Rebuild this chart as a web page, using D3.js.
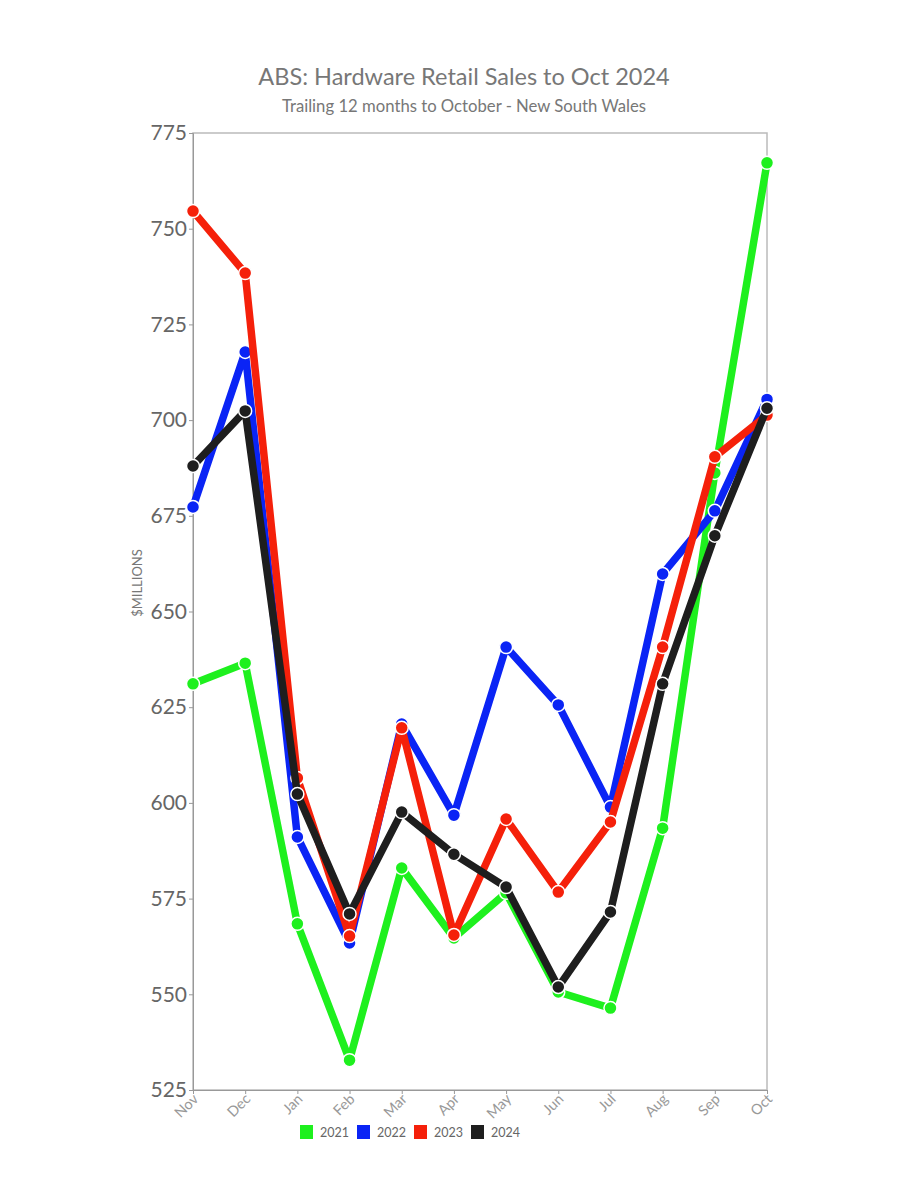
<!DOCTYPE html>
<html lang="en">
<head>
<meta charset="utf-8">
<title>ABS Hardware Retail Sales</title>
<script src="https://d3js.org/d3.v7.min.js"></script>
<style>
  body { margin: 0; background: #fff; font-family: Lato, "Open Sans", sans-serif; }
</style>
</head>
<body>
<script>
// data
var months = ["Nov","Dec","Jan","Feb","Mar","Apr","May","Jun","Jul","Aug","Sep","Oct"];
var years = ["2021","2022","2023","2024"];
var colors = ["#1ef01e","#0a24f5","#f5200a","#1e1e1e"];
var yTicks = [525,550,575,600,625,650,675,700,725,750,775];

var s2021 = [631.1,636.5,568.4,532.8,583.0,564.7,576.5,550.6,546.4,593.4,686.2,767.2];
var s2022 = [677.3,717.8,591.1,563.4,620.6,596.8,640.7,625.6,598.9,659.8,676.3,705.4];
var s2023 = [754.6,738.4,606.5,565.2,619.6,565.5,595.8,576.7,595.0,640.7,690.4,701.3];
var s2024 = [688.0,702.4,602.3,571.0,597.6,586.6,578.0,551.9,571.5,631.1,669.8,703.1];
var series = [s2021, s2022, s2023, s2024];

var w = 900, h = 1200;
var padL = 193, padR = 767, padT = 133, padB = 1090;

var svg = d3.select("body").append("svg").attr("width", w).attr("height", h);

var x = d3.scalePoint().domain(months).range([padL, padR]);
var y = d3.scaleLinear().domain([525, 775]).range([padB, padT]);

// title
svg.append("text").attr("x", 464).attr("y", 85).attr("text-anchor", "middle")
  .attr("font-size", 23.5).attr("fill", "#777")
  .text("ABS: Hardware Retail Sales to Oct 2024");
svg.append("text").attr("x", 464).attr("y", 112).attr("text-anchor", "middle")
  .attr("font-size", 16.7).attr("fill", "#777")
  .text("Trailing 12 months to October - New South Wales");

// frame
svg.append("rect").attr("x", padL).attr("y", padT)
  .attr("width", padR - padL).attr("height", padB - padT)
  .attr("fill", "none").attr("stroke", "#bbb").attr("stroke-width", 1.5);

// y axis
var yAxis = svg.append("g").attr("transform", "translate(" + padL + ",0)")
  .call(d3.axisLeft(y).tickValues(yTicks).tickSize(4).tickPadding(2));
yAxis.select(".domain").attr("stroke", "#999");
yAxis.selectAll(".tick line").attr("stroke", "#999");
yAxis.selectAll(".tick text").attr("font-size", 21).attr("fill", "#666")
  .attr("font-family", "Lato, sans-serif");

// x axis
var xAxis = svg.append("g").attr("transform", "translate(0," + padB + ")")
  .call(d3.axisBottom(x).tickSize(4));
xAxis.select(".domain").attr("stroke", "#999");
xAxis.selectAll(".tick line").attr("stroke", "#999");
xAxis.selectAll(".tick text").attr("font-size", 14.5).attr("fill", "#999")
  .attr("font-family", "Lato, sans-serif")
  .attr("text-anchor", "end").attr("x", -3).attr("y", 6).attr("dy", "0.35em")
  .attr("transform", "rotate(-45)");

// y label
svg.append("text").attr("transform", "translate(142,583) rotate(-90)")
  .attr("text-anchor", "middle").attr("font-size", 13).attr("fill", "#777")
  .text("$MILLIONS");

// lines
var line = d3.line().x(function(d, i) { return x(months[i]); }).y(function(d) { return y(d); });

series.forEach(function(s, k) {
  svg.append("path").datum(s).attr("d", line)
    .attr("fill", "none").attr("stroke", colors[k])
    .attr("stroke-width", 7.5).attr("stroke-linejoin", "round");
  svg.append("g").selectAll("circle").data(s).enter().append("circle")
    .attr("cx", function(d, i) { return x(months[i]); })
    .attr("cy", function(d) { return y(d); })
    .attr("r", 6.5)
    .attr("fill", colors[k]).attr("stroke", "#fff").attr("stroke-width", 1.5);
});

// legend
var lg = svg.append("g").selectAll("g").data(years).enter().append("g")
  .attr("transform", function(d, i) { return "translate(" + (300 + i * 57) + ",1125)"; });
lg.append("rect").attr("width", 13).attr("height", 14)
  .attr("fill", function(d, i) { return colors[i]; });
lg.append("text").attr("x", 20).attr("y", 12).attr("font-size", 12.5).attr("fill", "#666")
  .text(function(d) { return d; });
</script>
</body>
</html>
